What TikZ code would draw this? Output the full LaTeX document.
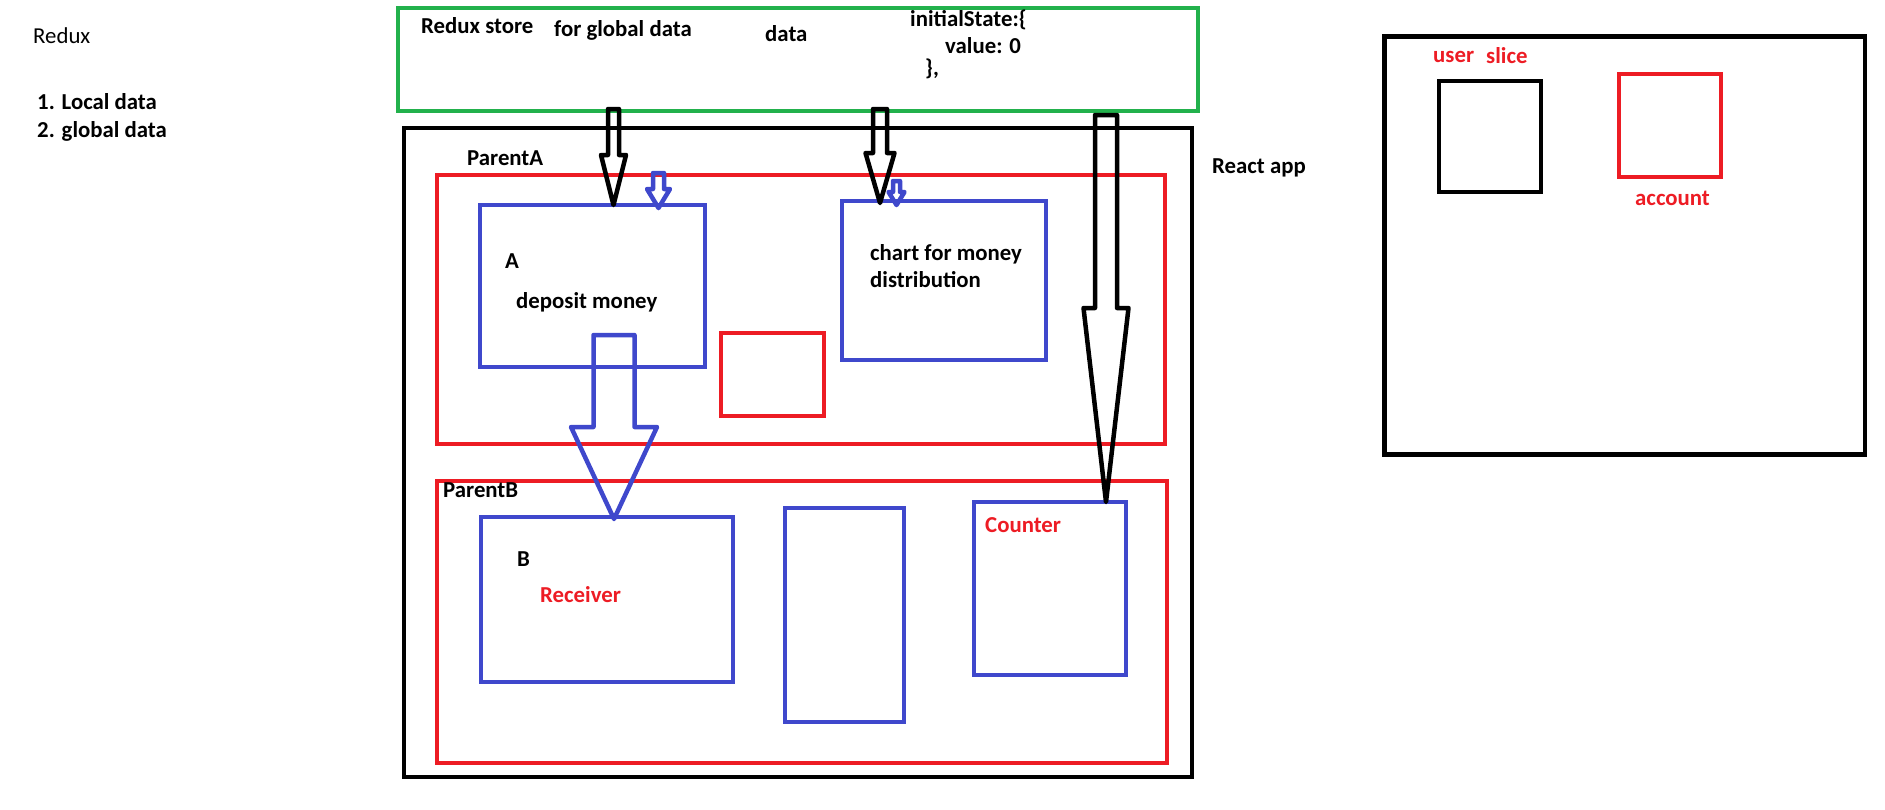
\documentclass[tikz,border=0pt]{standalone}
\usepackage{fontspec}
\setmainfont{Carlito}
\usetikzlibrary{calc}
\definecolor{pgreen}{HTML}{22B14C}
\definecolor{pred}{HTML}{ED1C24}
\definecolor{pblue}{HTML}{3F48CC}
\newcommand\blkarrow[6]{%
  \draw[#1] ($(#2)+(-#4,0)$) -- ($(#3)+(-#4,-#6)$) -- ($(#3)+(-#5,-#6)$) -- (#3)
    -- ($(#3)+(#5,-#6)$) -- ($(#3)+(#4,-#6)$) -- ($(#2)+(#4,0)$) -- cycle;}
\begin{document}
\begin{tikzpicture}[x=1pt,y=-1pt,
  box/.style={draw=#1,line width=4.5pt,inner sep=0pt,outer sep=0pt,rectangle},
  txt/.style={inner sep=0pt,anchor=base west,font=\fontsize{22.8}{27}\selectfont\bfseries},
  rtxt/.style={txt,text=pred},
  arr/.style={draw=#1,line width=4.5pt,line join=round}]
\useasboundingbox (0,0) rectangle (1885,809);
% boxes
\node[box=pgreen,minimum width=800,minimum height=103] (store) at (798,59.5) {};
\node[box=black,minimum width=788,minimum height=649] (react) at (798,452.5) {};
\node[box=pred,minimum width=728,minimum height=269] (parentA) at (801,309.5) {};
\node[box=pblue,minimum width=225,minimum height=162] (boxA) at (592.5,286) {};
\node[box=pred,minimum width=103,minimum height=83] (smallred) at (772.5,374.5) {};
\node[box=pblue,minimum width=204,minimum height=159] (chart) at (944,280.5) {};
\node[box=pred,minimum width=730,minimum height=282] (parentB) at (802,622) {};
\node[box=pblue,minimum width=252,minimum height=165] (boxB) at (607,599.5) {};
\node[box=pblue,minimum width=119,minimum height=214] (middle) at (844.5,615) {};
\node[box=pblue,minimum width=152,minimum height=173] (counter) at (1050,588.5) {};
\node[box=black,minimum width=480.5,minimum height=418] (slice) at (1624.75,245.5) {};
\node[box=black,minimum width=102,minimum height=111] (userbox) at (1490,136.5) {};
\node[box=pred,minimum width=102,minimum height=103] (account) at (1670,125.5) {};
% texts
\node[txt,font=\fontsize{22.8}{27}\selectfont] (redux) at (33,43) {Redux};
\node[txt] (local) at (37,109) {1. Local data};
\node[txt] (global) at (37,137) {2. global data};
\node[txt] (storelbl) at (421,33) {Redux store};
\node[txt] (forglobal) at (554,36) {for global data};
\node[txt] (datalbl) at (765,41) {data};
\node[txt] (init1) at (910,26) {initialState:\{};
\node[txt] (init2) at (945,53) {value: 0};
\node[txt] (init3) at (925,75) {\},};
\node[txt] (pAlbl) at (467,165) {ParentA};
\node[txt] (reactlbl) at (1212,173) {React app};
\node[txt] (Albl) at (505,268) {A};
\node[txt] (deposit) at (516,308) {deposit money};
\node[txt] (chart1) at (870,260) {chart for money};
\node[txt] (chart2) at (870,287) {distribution};
\node[txt] (pBlbl) at (443,497) {ParentB};
\node[txt] (Blbl) at (517,566) {B};
\node[rtxt] (receiver) at (540,602) {Receiver};
\node[rtxt] (counterlbl) at (985,532) {Counter};
\node[rtxt] (userlbl) at (1433,62) {user};
\node[rtxt] (slicelbl) at (1486,63) {slice};
\node[rtxt] (accountlbl) at (1635,205) {account};
% arrow coordinates
\coordinate (a1s) at (613.5,109);
\coordinate (a1t) at (a1s |- boxA.north);
\coordinate (a2s) at (880,109);
\coordinate (a2t) at (880,203);
\coordinate (a3s) at (1106,115);
\coordinate (a3t) at (a3s |- counter.north);
\coordinate (bAs) at (658.5,173);
\coordinate (bAt) at (658.5,208);
\coordinate (bCs) at (896.5,181);
\coordinate (bCt) at (896.5,205);
\coordinate (bBs) at (614,335);
\coordinate (bBt) at (614,519);
% arrows
\blkarrow{arr=black}{a1s}{a1t}{5.5}{12.5}{50}
\blkarrow{arr=black}{a2s}{a2t}{7}{14.5}{50}
\blkarrow{arr=black}{a3s}{a3t}{11}{22.5}{194}
\blkarrow{arr=pblue}{bAs}{bAt}{5.5}{11.5}{19}
\blkarrow{arr=pblue}{bCs}{bCt}{3.5}{8}{13}
\blkarrow{arr=pblue}{bBs}{bBt}{20.5}{43}{92}
\end{tikzpicture}
\end{document}
